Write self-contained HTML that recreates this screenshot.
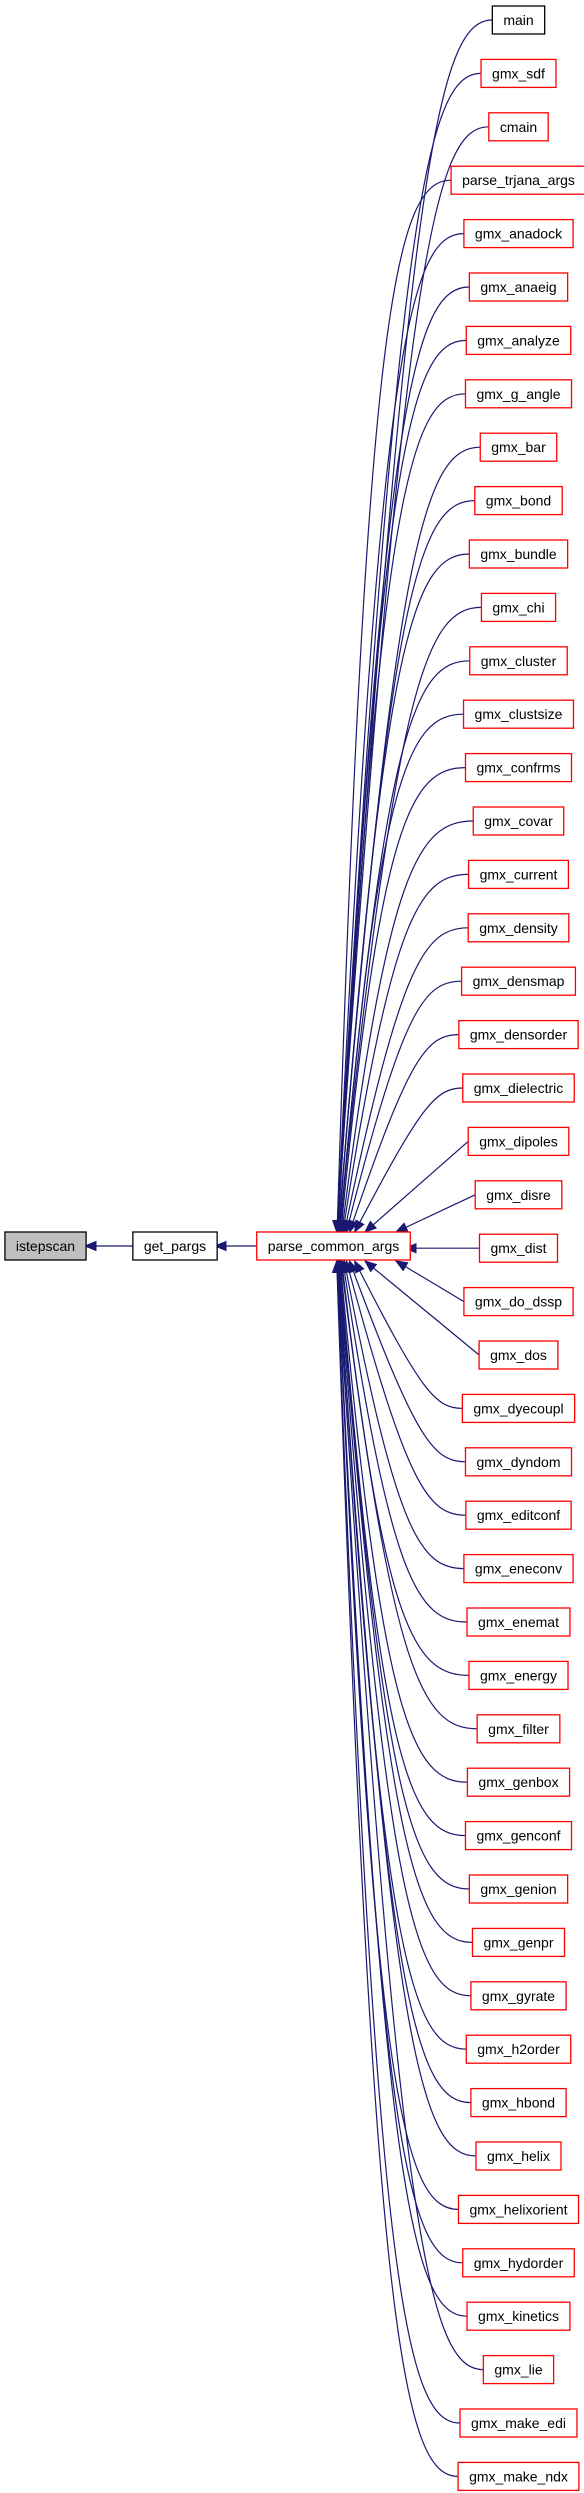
<!DOCTYPE html>
<html><head><meta charset="utf-8"><style>
html,body{margin:0;padding:0;background:#fff;width:584px;height:2493px;overflow:hidden}
svg{display:block}
text{font-family:"Liberation Sans",Arial,sans-serif;font-size:14px;fill:#000}
</style></head><body>
<svg id="s" width="584" height="2493" xmlns="http://www.w3.org/2000/svg"></svg>
<script>
const names=["main","gmx_sdf","cmain","parse_trjana_args","gmx_anadock","gmx_anaeig","gmx_analyze","gmx_g_angle","gmx_bar","gmx_bond","gmx_bundle","gmx_chi","gmx_cluster","gmx_clustsize","gmx_confrms","gmx_covar","gmx_current","gmx_density","gmx_densmap","gmx_densorder","gmx_dielectric","gmx_dipoles","gmx_disre","gmx_dist","gmx_do_dssp","gmx_dos","gmx_dyecoupl","gmx_dyndom","gmx_editconf","gmx_eneconv","gmx_enemat","gmx_energy","gmx_filter","gmx_genbox","gmx_genconf","gmx_genion","gmx_genpr","gmx_gyrate","gmx_h2order","gmx_hbond","gmx_helix","gmx_helixorient","gmx_hydorder","gmx_kinetics","gmx_lie","gmx_make_edi","gmx_make_ndx"];
const s=document.getElementById('s');const NS="http://www.w3.org/2000/svg";
function el(t,a,p){const e=document.createElementNS(NS,t);for(const k in a)e.setAttribute(k,a[k]);(p||s).appendChild(e);return e;}
const gE=el('g',{}),gN=el('g',{});
function tw(str){const t=el('text',{x:0,y:-100},gN);t.textContent=str;const w=t.getComputedTextLength();gN.removeChild(t);return w;}
function node(cx,y,label,stroke,fill){const w=tw(label)+22;el('rect',{x:cx-w/2,y:y,width:w,height:28,fill:fill,stroke:stroke,'stroke-width':1.3},gN);const t=el('text',{x:cx,y:y+19,'text-anchor':'middle'},gN);t.textContent=label;return [cx-w/2,cx+w/2];}
function arrow(tx,ty,dx,dy){const L=Math.hypot(dx,dy);dx/=L;dy/=L;const l=11,h=4.5;const bx=tx-dx*l,by=ty-dy*l;el('polygon',{points:`${tx},${ty} ${bx-dy*h},${by+dx*h} ${bx+dy*h},${by-dx*h}`,fill:'#191970',stroke:'#191970'},gE);}
const ry=1232;
node(45.5,ry,"istepscan","#000","#bfbfbf");
node(175,ry,"get_pargs","#000","#fff");
node(333.5,ry,"parse_common_args","#ff0000","#fff");
el('line',{x1:135,y1:ry+14,x2:96,y2:ry+14,stroke:'#191970','stroke-width':1.2},gE);arrow(85,ry+14,-1,0);
el('line',{x1:262,y1:ry+14,x2:226,y2:ry+14,stroke:'#191970','stroke-width':1.2},gE);arrow(215,ry+14,-1,0);
names.forEach((n,i)=>{const y=6+53.4*i;const b=node(518.5,y,n,i==0?"#000":"#ff0000","#fff");const xl=b[0],yc=y+14;const d=i-23;
 if(d==0){el('line',{x1:xl,y1:yc,x2:416,y2:yc,stroke:'#191970','stroke-width':1.2},gE);arrow(405,yc,-1,0);return;}
 const ad=Math.abs(d);const tx=334+62/ad;const ty=d<0?ry:ry+29;
 let p1x,p1y,p2x,p2y;
 if(ad<=2){p1x=xl-(xl-tx)*0.3;p1y=yc+(ty-yc)*0.3;p2x=tx+(xl-tx)*0.3;p2y=ty+(yc-ty)*0.3;}
 else{const k=Math.min(1,ad/8);p1x=xl-45*k-10;p1y=yc;p2x=xl-(70*k+15);p2y=yc+(ty-yc)*0.12;}
 let dx=tx-p2x,dy=ty-p2y;const L=Math.hypot(dx,dy);const ex=tx-dx/L*10,ey=ty-dy/L*10;
 el('path',{d:`M${xl},${yc} C${p1x},${p1y} ${p2x},${p2y} ${ex},${ey}`,fill:'none',stroke:'#191970','stroke-width':1.2},gE);
 arrow(tx,ty,dx,dy);
});
</script>
</body></html>
